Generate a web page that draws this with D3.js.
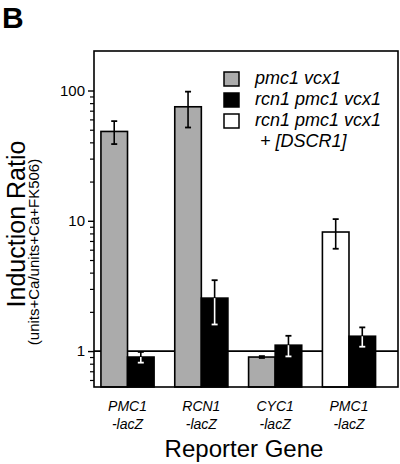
<!DOCTYPE html>
<html>
<head>
<meta charset="utf-8">
<script src="https://cdn.jsdelivr.net/npm/d3@7"></script>
<style>
  html, body { margin: 0; padding: 0; background: #fff; }
  svg { display: block; }
  text { font-family: "Liberation Sans", Arial, Helvetica, sans-serif; fill: #000; }
</style>
</head>
<body>
<svg id="chart" width="400" height="464"></svg>
<script>
// ---- data ----
const groups = ["g1", "g2", "g3", "g4"];
const labelLine1 = ["PMC1", "RCN1", "CYC1", "PMC1"];
const labelLine2 = ["-lacZ", "-lacZ", "-lacZ", "-lacZ"];

const seriesNames = ["pmc1 vcx1", "rcn1 pmc1 vcx1", "rcn1 pmc1 vcx1 + [DSCR1]"];
const pmc1Vcx1 = [48.5, 75, 0.90, null];
const pmc1Vcx1Err = [9.7, 23, 0.015, null];
const rcn1Pmc1Vcx1 = [0.90, 2.55, 1.11, 1.30];
const rcn1Pmc1Vcx1Err = [0.085, 0.95, 0.2, 0.22];
const rcn1Dscr1 = [null, null, null, 8.2];
const rcn1Dscr1Err = [null, null, null, 2.1];

const yMajorTicks = [1, 10, 100];
const yMinorTicks = [0.6, 0.7, 0.8, 0.9, 2, 3, 4, 5, 6, 7, 8, 9, 20, 30, 40, 50, 60, 70, 80, 90];
const yDomain = [0.53, 201];

// ---- layout ----
const svg = d3.select("#chart");
const L = 94, R = 398, T = 51, B = 387;
const fills = { "pmc1 vcx1": "#ababab", "rcn1 pmc1 vcx1": "#000", "rcn1 pmc1 vcx1 + [DSCR1]": "#fff" };

const y = d3.scaleLog().domain(yDomain).range([B, T]);
const x = d3.scaleBand().domain(groups).range([90.6, 385.9]).paddingInner(0.28).paddingOuter(0.14);
const xi = d3.scaleBand().domain(["first", "second"]).range([0, x.bandwidth()]);

// Build bar records
const bars = [];
groups.forEach((g, i) => {
  if (pmc1Vcx1[i] != null) bars.push({ g, slot: "first", s: seriesNames[0], v: pmc1Vcx1[i], e: pmc1Vcx1Err[i] });
  if (rcn1Dscr1[i] != null) bars.push({ g, slot: "first", s: seriesNames[2], v: rcn1Dscr1[i], e: rcn1Dscr1Err[i] });
  if (rcn1Pmc1Vcx1[i] != null) bars.push({ g, slot: "second", s: seriesNames[1], v: rcn1Pmc1Vcx1[i], e: rcn1Pmc1Vcx1Err[i] });
});

// reference line at 1
svg.append("line")
  .attr("x1", L).attr("x2", R).attr("y1", y(1)).attr("y2", y(1))
  .attr("stroke", "#000").attr("stroke-width", 1.6);

// bars
svg.append("g").selectAll("rect").data(bars).join("rect")
  .attr("x", d => x(d.g) + xi(d.slot))
  .attr("width", xi.bandwidth())
  .attr("y", d => y(d.v))
  .attr("height", d => B - y(d.v))
  .attr("fill", d => fills[d.s])
  .attr("stroke", "#000").attr("stroke-width", 1.6);

// error bars
const cap = 3;
const eg = svg.append("g");
bars.forEach(d => {
  const cx = x(d.g) + xi(d.slot) + xi.bandwidth() / 2;
  const inner = d.s === seriesNames[1] ? "#fff" : "#000";
  const yHi = y(d.v + d.e), yLo = y(d.v - d.e), yv = y(d.v);
  eg.append("line").attr("x1", cx).attr("x2", cx).attr("y1", yHi).attr("y2", yv)
    .attr("stroke", "#000").attr("stroke-width", 1.6);
  eg.append("line").attr("x1", cx - cap).attr("x2", cx + cap).attr("y1", yHi).attr("y2", yHi)
    .attr("stroke", "#000").attr("stroke-width", 1.8);
  eg.append("line").attr("x1", cx).attr("x2", cx).attr("y1", yv).attr("y2", yLo)
    .attr("stroke", inner).attr("stroke-width", 1.6);
  eg.append("line").attr("x1", cx - cap).attr("x2", cx + cap).attr("y1", yLo).attr("y2", yLo)
    .attr("stroke", inner).attr("stroke-width", 1.8);
});

// frame
svg.append("rect").attr("x", L).attr("y", T).attr("width", R - L).attr("height", B - T)
  .attr("fill", "none").attr("stroke", "#000").attr("stroke-width", 1.6);

// y axis (major)
const yAxis = d3.axisLeft(y).tickValues(yMajorTicks).tickFormat(d3.format("d")).tickSize(6).tickPadding(3);
const ga = svg.append("g").attr("transform", `translate(${L},0)`).call(yAxis);
ga.select(".domain").remove();
ga.selectAll(".tick line").attr("stroke", "#000").attr("stroke-width", 1.4);
ga.selectAll(".tick text").style("font-size", "15px").style("font-family", "'Liberation Sans', Arial, sans-serif").attr("fill", "#000");

// y axis (minor)
const yMinor = d3.axisLeft(y).tickValues(yMinorTicks).tickFormat("").tickSize(4);
const gm = svg.append("g").attr("transform", `translate(${L},0)`).call(yMinor);
gm.select(".domain").remove();
gm.selectAll(".tick line").attr("stroke", "#000").attr("stroke-width", 1.2);

// x labels
const xl = svg.append("g");
groups.forEach((g, i) => {
  const cx = x(g) + x.bandwidth() / 2;
  xl.append("text").attr("x", cx).attr("y", 410.5).attr("text-anchor", "middle")
    .style("font-size", "14px").style("font-style", "italic").text(labelLine1[i]);
  xl.append("text").attr("x", cx).attr("y", 428.5).attr("text-anchor", "middle")
    .style("font-size", "14px").style("font-style", "italic").text(labelLine2[i]);
});

// axis titles
svg.append("text").attr("x", 244).attr("y", 457).attr("text-anchor", "middle")
  .style("font-size", "24px").text("Reporter Gene");
svg.append("text").attr("transform", "translate(25,224) rotate(-90)").attr("text-anchor", "middle")
  .style("font-size", "25px").text("Induction Ratio");
svg.append("text").attr("transform", "translate(39,252) rotate(-90)").attr("text-anchor", "middle")
  .style("font-size", "15px").text("(units+Ca/units+Ca+FK506)");

// panel letter
svg.append("text").attr("x", 2).attr("y", 28).style("font-size", "30px").style("font-weight", "bold").text("B");

// legend
const legendRows = [
  { s: seriesNames[0], lines: ["pmc1 vcx1"] },
  { s: seriesNames[1], lines: ["rcn1 pmc1 vcx1"] },
  { s: seriesNames[2], lines: ["rcn1 pmc1 vcx1", "+ [DSCR1]"] }
];
const lg = svg.append("g");
legendRows.forEach((r, i) => {
  const top = 72 + i * 21;
  lg.append("rect").attr("x", 224).attr("y", top).attr("width", 15).attr("height", 14)
    .attr("fill", fills[r.s]).attr("stroke", "#000").attr("stroke-width", 1.5);
  r.lines.forEach((t, j) => {
    lg.append("text").attr("x", j === 0 ? 255 : 260).attr("y", top + 12 + j * 20.5)
      .style("font-size", "18px").style("font-style", "italic").text(t);
  });
});
</script>
</body>
</html>
